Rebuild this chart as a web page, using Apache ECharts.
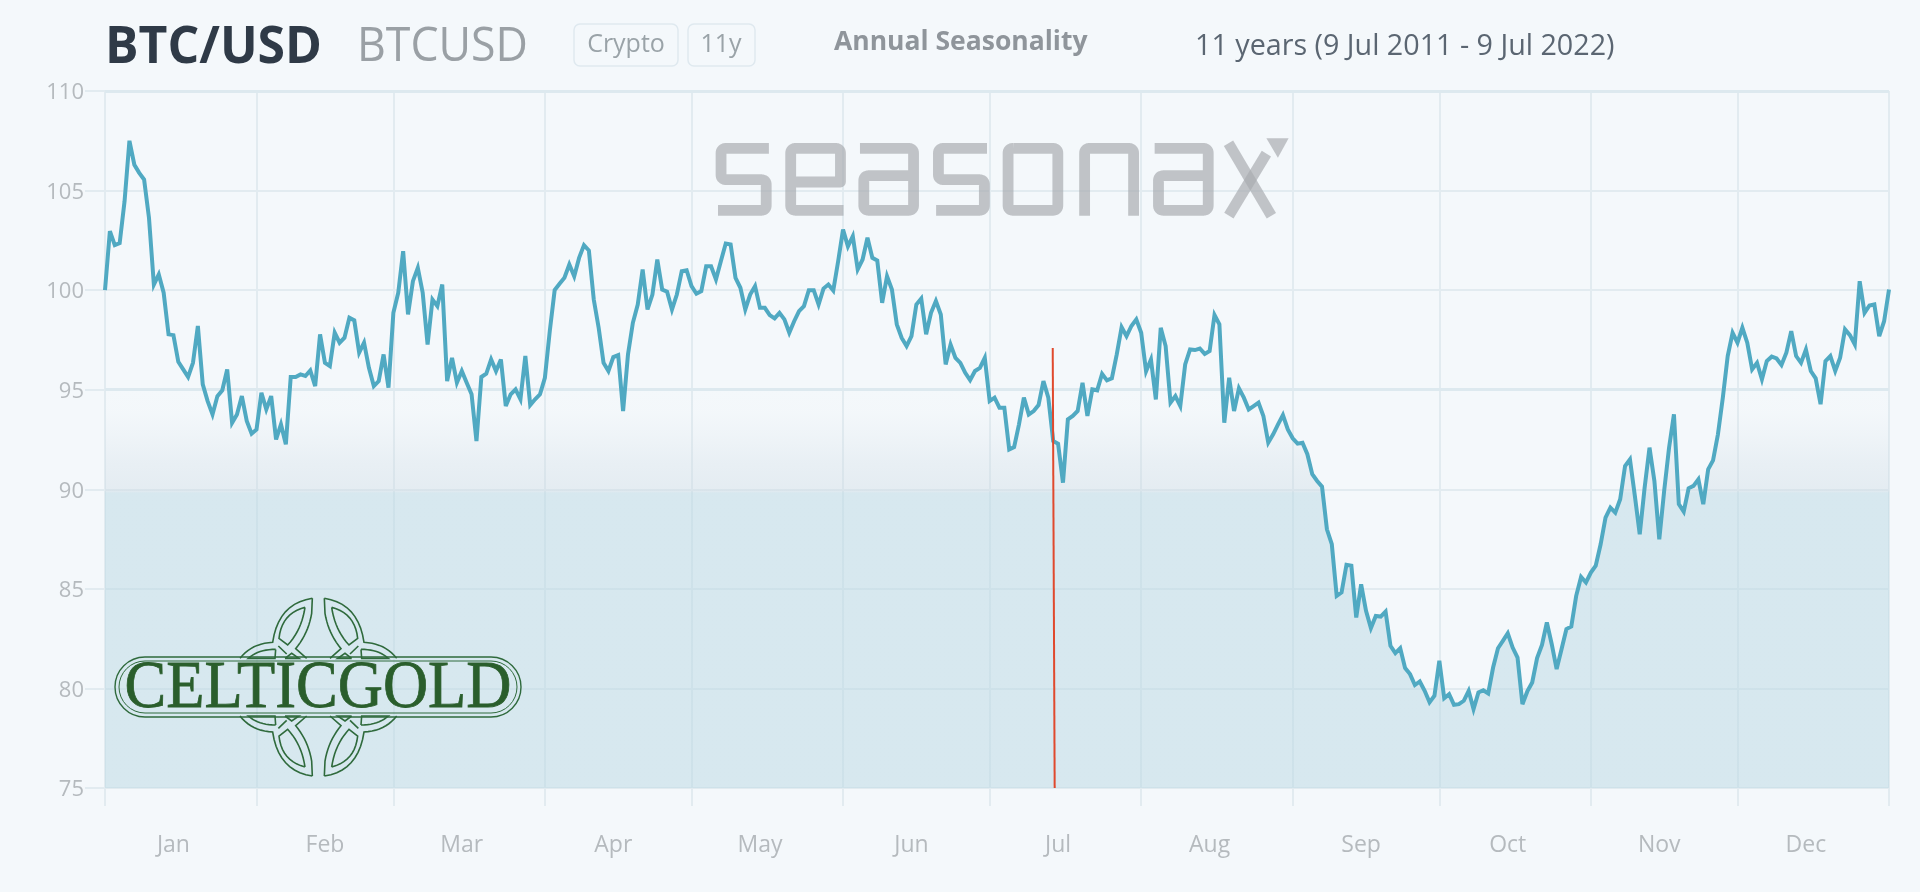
<!DOCTYPE html>
<html><head><meta charset="utf-8">
<style>html,body{margin:0;padding:0;background:#f4f8fb}#c{width:1920px;height:892px}</style>
<script src="https://cdn.jsdelivr.net/npm/echarts@6/dist/echarts.min.js"></script>
</head><body><div id="c"></div>
<script>
const months = ['Jan','Feb','Mar','Apr','May','Jun','Jul','Aug','Sep','Oct','Nov','Dec'];
const monthLengths = [31,28,31,30,31,30,31,31,30,31,30,31];
const yTicks = [75,80,85,90,95,100,105,110];
const valuesJan = [100,102.96,102.26,102.36,104.46,107.5,106.3,105.89,105.55,103.63,100.28,100.79,99.87,97.78,97.74,96.4,96.02,95.64,96.35,98.2,95.27,94.43,93.76,94.68,94.97,96.02,93.34,93.76,94.68,93.43,92.79];
const valuesFeb = [93,94.85,94.01,94.68,92.5,93.26,92.26,95.64,95.64,95.77,95.69,95.97,95.18,97.78,96.35,96.19,97.86,97.36,97.61,98.61,98.48,96.86,97.36,96.1,95.18,95.43,96.77,95.1];
const valuesMar = [98.86,99.87,101.96,98.78,100.45,101.12,99.87,97.27,99.53,99.2,100.28,95.43,96.6,95.35,95.94,95.35,94.77,92.42,95.64,95.8,96.52,95.94,96.52,94.18,94.77,95.02,94.52,96.69,94.23,94.52,94.77];
const valuesApr = [95.6,97.94,100,100.32,100.62,101.29,100.7,101.62,102.26,101.99,99.53,98.11,96.35,95.94,96.64,96.74,93.93,96.77,98.36,99.28,101.04,99.03,99.78,101.54,100.03,99.92,99.03,99.78,100.95,101];
const valuesMay = [100.2,99.82,99.95,101.2,101.2,100.54,101.45,102.34,102.29,100.62,100.12,99.03,99.78,100.2,99.11,99.11,98.75,98.58,98.86,98.53,97.86,98.44,98.95,99.2,100,100,99.28,100.08,100.28,99.98,101.45];
const valuesJun = [103.04,102.2,102.71,101.04,101.54,102.63,101.62,101.49,99.36,100.7,100.03,98.28,97.6,97.19,97.69,99.28,99.58,97.78,98.86,99.45,98.78,96.27,97.27,96.6,96.35,95.85,95.48,95.94,96.1,96.6];
const valuesJul = [94.43,94.6,94.1,94.1,92,92.12,93.26,94.6,93.76,93.93,94.23,95.43,94.6,92.42,92.29,90.33,93.51,93.68,93.93,95.35,93.68,95.02,94.97,95.8,95.47,95.57,96.77,98.14,97.69,98.2,98.53];
const valuesAug = [97.86,95.93,96.52,94.51,98.11,97.19,94.35,94.68,94.18,96.27,97.02,96.99,97.07,96.8,96.94,98.75,98.28,93.34,95.6,93.93,95.07,94.6,94.01,94.18,94.35,93.68,92.34,92.76,93.26,93.73,93.01];
const valuesSep = [92.56,92.29,92.34,91.76,90.76,90.42,90.13,87.99,87.24,84.65,84.82,86.21,86.16,83.56,85.23,83.9,83.03,83.64,83.61,83.86,82.14,81.77,82.02,81.02,80.72,80.17,80.35,79.88,79.3,79.63];
const valuesOct = [81.39,79.51,79.71,79.18,79.21,79.38,79.88,78.96,79.8,79.91,79.75,81.05,82.02,82.39,82.77,82.05,81.55,79.21,79.85,80.3,81.52,82.19,83.31,82.22,80.97,81.97,82.98,83.11,84.65,85.6,85.32];
const valuesNov = [85.82,86.16,87.24,88.58,89.08,88.83,89.5,91.17,91.5,89.67,87.74,90.08,92.09,90.42,87.49,89.92,92.09,93.76,89.25,88.88,90.05,90.17,90.5,89.25,91,91.45,92.76,94.6,96.69,97.86];
const valuesDec = [97.36,98.11,97.36,96.02,96.35,95.52,96.44,96.66,96.57,96.24,96.86,97.94,96.69,96.35,97.02,95.94,95.57,94.27,96.44,96.69,95.94,96.61,98.03,97.74,97.27,100.45,98.86,99.23,99.28,97.69,98.44,100.03];
const markerDays = [193.9,194.3];
const markerValues = [97.1,75];

const values = [].concat(valuesJan,valuesFeb,valuesMar,valuesApr,valuesMay,valuesJun,valuesJul,valuesAug,valuesSep,valuesOct,valuesNov,valuesDec);
const categories = []; const monthStarts = new Set(); const labelAt = new Set();
months.forEach((m,i)=>{ monthStarts.add(categories.length); labelAt.add(categories.length+14);
  for(let d=1;d<=monthLengths[i];d++) categories.push(m+' '+d); });
monthStarts.add(categories.length); categories.push('Dec 32');

const LINE='#e2ebf0', TICKTXT='#b5babe';
// turn a small M/L/Q/Z outline into polylines placed with an offset and scale (logos only)
function outline(d,ox,oy,sx,sy,z,style){
  const out=[]; let pts=null,cx=0,cy=0;
  const toks=d.match(/[MLQZ]|-?\d+(?:\.\d+)?/g); let i=0;
  const flush=()=>{ if(pts&&pts.length>1) out.push(pts); };
  while(i<toks.length){ const c=toks[i++];
    if(c==='M'){ flush(); cx=+toks[i++]; cy=+toks[i++]; pts=[[cx,cy]]; }
    else if(c==='L'){ cx=+toks[i++]; cy=+toks[i++]; pts.push([cx,cy]); }
    else if(c==='Q'){ const qx=+toks[i++],qy=+toks[i++],ex=+toks[i++],ey=+toks[i++];
      for(let k=1;k<=10;k++){const t=k/10,u=1-t; pts.push([u*u*cx+2*u*t*qx+t*t*ex,u*u*cy+2*u*t*qy+t*t*ey]);}
      cx=ex;cy=ey; }
    else if(c==='Z'){ pts.push(pts[0].slice()); }
  }
  flush();
  return out.map(p=>({type:'polyline',z:z,silent:true,shape:{points:p.map(q=>[ox+q[0]*sx,oy+q[1]*sy])},style:style}));
}
function mirror(d,sx,sy,cx,cy){return d.replace(/(-?\d+(?:\.\d+)?) (-?\d+(?:\.\d+)?)/g,(m,x,y)=>{
  const X=sx<0?2*cx-x:+x, Y=sy<0?2*cy-y:+y; return X+' '+Y;});}
const seasonaxD=[
'M180 70 L70 70 Q55 70 55 85 L55 149 Q55 164 70 164 L158 164 Q173 164 173 179 L173 241 Q173 256 158 256 L47 256',
'M237 171 L367 171 L367 85 Q367 70 352 70 L252 70 Q237 70 237 85 L237 241 Q237 256 252 256 L375 256',
'M418 70 L543 70 Q558 70 558 85 L558 241 Q558 256 543 256 L443 256 Q428 256 428 241 L428 167 Q428 152 443 152 L558 152',
'M750 70 L638 70 Q623 70 623 85 L623 149 Q623 164 638 164 L728 164 Q743 164 743 179 L743 241 Q743 256 728 256 L617 256',
'M820 70 L920 70 Q935 70 935 85 L935 241 Q935 256 920 256 L820 256 Q805 256 805 241 L805 85 Q805 70 820 70 Z',
'M1005 272 L1005 85 Q1005 70 1020 70 L1118 70 Q1133 70 1133 85 L1133 272',
'M1188 70 L1313 70 Q1328 70 1328 85 L1328 241 Q1328 256 1313 256 L1213 256 Q1198 256 1198 241 L1198 167 Q1198 152 1213 152 L1328 152',
'M1381 55 L1493 272 M1382 272 L1480 86'].join(' ');
const knot=[
'M622 25 Q 520 40 503 157 Q 440 160 405 205',
'M622 25 L620 70 Q 610 130 572 176 L605 205',
'M600 52 Q 530 70 522 145 L 548 165 Q 590 120 600 52 Z',
'M512 178 Q 460 178 430 205 L 510 205 Z',
'M540 205 L560 190 L582 205 Z',
'M520 168 L545 192'].join(' ');
const knotAll=[[1,1],[-1,1],[1,-1],[-1,-1]].map(s=>mirror(knot,s[0],s[1],640,291.5)).join(' ');
const green='#2f6a3c';
const graphics=[
 {type:'rect',z:3,silent:true,shape:{x:574,y:24,width:104,height:42,r:6},style:{fill:'none',stroke:'#dfe9ef',lineWidth:1.5}},
 {type:'rect',z:3,silent:true,shape:{x:688,y:24,width:67,height:42,r:6},style:{fill:'none',stroke:'#dfe9ef',lineWidth:1.5}},
 {type:'text',z:3,x:105,y:48,scaleX:0.96,style:{text:'BTC/USD',font:'bold 52px "Open Sans"',fill:'#2f3a47',textVerticalAlign:'middle'}},
 {type:'text',z:3,x:357,y:48,scaleX:0.95,style:{text:'BTCUSD',font:'47px "Open Sans"',fill:'#9aa0a5',textVerticalAlign:'middle'}},
 {type:'text',z:3,x:626,y:45,style:{text:'Crypto',font:'25px "Open Sans"',fill:'#9aa3a8',textAlign:'center',textVerticalAlign:'middle'}},
 {type:'text',z:3,x:721,y:45,style:{text:'11y',font:'25px "Open Sans"',fill:'#9aa3a8',textAlign:'center',textVerticalAlign:'middle'}},
 {type:'text',z:3,x:834,y:42,style:{text:'Annual Seasonality',font:'bold 26.5px "Open Sans"',fill:'#8f959b',textVerticalAlign:'middle'}},
 {type:'text',z:3,x:1195,y:47,style:{text:'11 years (9 Jul 2011 - 9 Jul 2022)',font:'28.7px "Open Sans"',fill:'#5b6672',textVerticalAlign:'middle'}},
 ...outline(seasonaxD,700,125,1/2.613,1/3,1,{fill:'none',stroke:'rgba(170,172,176,0.7)',lineWidth:10.8,lineJoin:'round'}),
 {type:'polygon',z:1,silent:true,shape:{points:[[1266.4,138.3],[1288.6,138.3],[1277.9,157.7]]},style:{fill:'rgba(170,172,176,0.7)'}},
 ...outline(knotAll,105,590,1/3,1/3,3,{fill:'none',stroke:green,lineWidth:1.6}),
 {type:'rect',z:3,silent:true,shape:{x:115,y:657,width:406,height:60,r:30},style:{fill:'none',stroke:green,lineWidth:1.4}},
 {type:'rect',z:3,silent:true,shape:{x:119,y:661,width:398,height:52,r:26},style:{fill:'none',stroke:green,lineWidth:1}},
 {type:'text',z:4,x:318,y:689,scaleX:0.92,style:{text:'CELTICGOLD',font:'68px "Liberation Serif"',fill:'#2a5e2c',stroke:'#2a5e2c',lineWidth:0.8,textAlign:'center',textVerticalAlign:'middle'}}
];

const chart=echarts.init(document.getElementById('c'),null,{renderer:'canvas'});
const lineStyle={color:LINE,width:2};
chart.setOption({
 animation:false,backgroundColor:'#f4f8fb',
 graphic:graphics,
 grid:{left:105,right:31,top:91,bottom:104,containLabel:false},
 xAxis:[{type:'category',boundaryGap:false,data:categories,
   axisLine:{show:false},
   axisTick:{show:true,length:18,lineStyle:lineStyle,interval:i=>monthStarts.has(i)},
   splitLine:{show:true,lineStyle:lineStyle,interval:i=>monthStarts.has(i)},
   axisLabel:{show:true,interval:i=>labelAt.has(i),margin:46,color:TICKTXT,fontSize:23,fontFamily:'Open Sans',formatter:v=>v.split(' ')[0]}},
  {type:'value',min:0,max:365,show:false}],
 yAxis:{type:'value',min:yTicks[0],max:yTicks[yTicks.length-1],interval:5,
   axisLine:{show:false},
   axisTick:{show:true,length:20,lineStyle:lineStyle},
   splitLine:{show:true,lineStyle:lineStyle},
   axisLabel:{margin:21,color:TICKTXT,fontSize:22,fontFamily:'Open Sans',verticalAlign:'top',lineHeight:4}},
 series:[
  {type:'line',name:'BTC/USD',data:values,symbol:'none',smooth:false,z:2,
   lineStyle:{color:'#50a9c2',width:4,join:'miter',miterLimit:4},
   areaStyle:{opacity:1,origin:'start',color:new echarts.graphic.LinearGradient(0,389,0,493,[
     {offset:0,color:'rgba(200,215,225,0)'},
     {offset:0.22,color:'rgba(200,215,225,0.02)'},
     {offset:0.45,color:'rgba(200,215,225,0.12)'},
     {offset:0.7,color:'rgba(200,215,225,0.26)'},
     {offset:0.975,color:'rgba(200,215,225,0.36)'},
     {offset:1,color:'rgba(186,216,227,0.5)'}],true)},
   markLine:{silent:true,z:1,symbol:'none',label:{show:false},lineStyle:{color:'#dde9ef',width:3,type:'solid'},data:[{yAxis:95},{yAxis:110}]}},
  {type:'line',name:'today',xAxisIndex:1,data:markerDays.map((d,i)=>[d,markerValues[i]]),symbol:'none',z:3,
   lineStyle:{color:'#e0492d',width:2}}
 ]
});
</script></body></html>
